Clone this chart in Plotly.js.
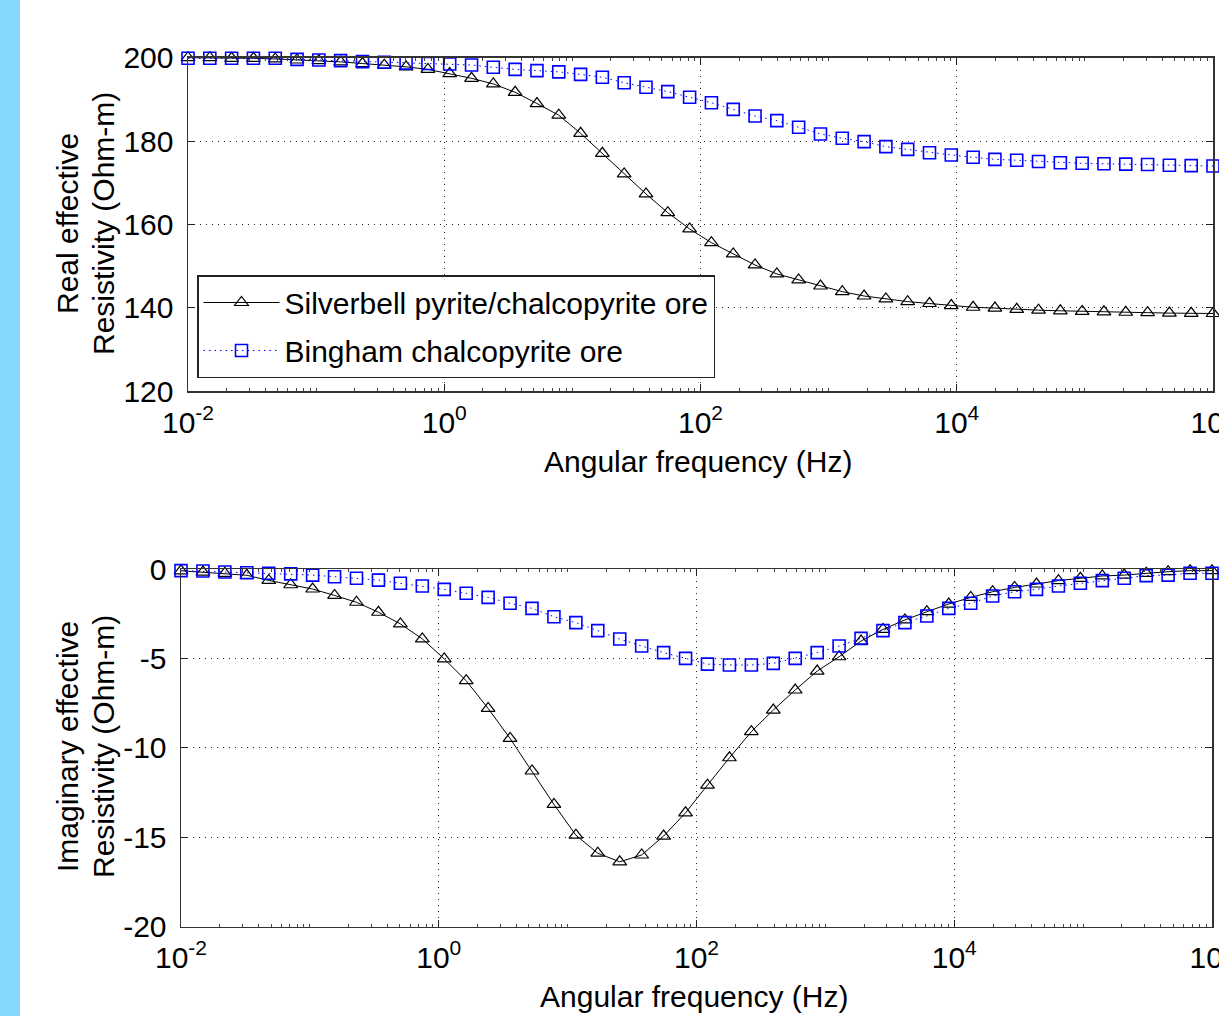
<!DOCTYPE html>
<html>
<head>
<meta charset="utf-8">
<script src="https://cdn.plot.ly/plotly-3.0.1.min.js"></script>
<style>
  html, body { margin: 0; padding: 0; }
  body { width: 1219px; height: 1016px; overflow: hidden;
         background: linear-gradient(to right, #84d8fc 0px, #84d8fc 20px, #ffffff 20px); }
  #chart { width: 1219px; height: 1016px; }
</style>
</head>
<body>
<div id="chart"></div>
<script>
// Angular frequency samples (Hz)
const omega = [0.01, 0.0148, 0.0219, 0.03241, 0.04796, 0.07098, 0.105, 0.1554, 0.23, 0.3404,
  0.5037, 0.7455, 1.103, 1.633, 2.416, 3.576, 5.292, 7.831, 11.59, 17.14,
  25.37, 37.55, 55.56, 82.23, 121.7, 180.1, 266.5, 394.4, 583.4, 863.6,
  1278, 1891, 2798, 4140, 6127, 9066, 13420, 19860, 29380, 43480,
  64350, 95220, 140900, 208500, 308700, 456700, 675900, 1000000];

// Real effective resistivity (Ohm-m)
const realSilverbell = [200, 200, 199.85, 199.85, 199.7, 199.45, 199.3, 199.0, 198.6, 198.2,
  197.8, 197.2, 196.2, 195.05, 193.7, 191.7, 189.0, 186.2, 181.85, 177.05,
  172.1, 167.3, 162.8, 158.9, 155.6, 152.9, 150.25, 148.1, 146.65, 145.2,
  143.85, 142.8, 142.1, 141.45, 141.0, 140.5, 140.1, 139.9, 139.6, 139.4,
  139.25, 139.1, 139.0, 138.9, 138.8, 138.7, 138.65, 138.6];
const realBingham = [199.85, 199.85, 199.85, 199.85, 199.85, 199.6, 199.45, 199.3, 199.05, 198.9,
  198.7, 198.6, 198.5, 198.25, 197.7, 197.2, 196.9, 196.6, 196.0, 195.3,
  194.0, 192.9, 191.85, 190.5, 189.2, 187.6, 186.0, 184.9, 183.3, 181.7,
  180.65, 179.85, 178.65, 178.0, 177.2, 176.65, 176.1, 175.6, 175.4, 175.1,
  174.8, 174.65, 174.55, 174.45, 174.35, 174.2, 174.1, 174.0];

// Imaginary effective resistivity (Ohm-m)
const imagSilverbell = [-0.1, -0.17, -0.24, -0.35, -0.64, -0.88, -1.12, -1.48, -1.86, -2.42,
  -3.07, -3.91, -5.03, -6.25, -7.8, -9.48, -11.3, -13.17, -14.89, -15.9,
  -16.38, -16.0, -14.94, -13.64, -12.09, -10.56, -9.1, -7.89, -6.77, -5.71,
  -4.91, -4.03, -3.38, -2.85, -2.39, -1.96, -1.59, -1.27, -1.03, -0.84,
  -0.65, -0.52, -0.39, -0.34, -0.24, -0.15, -0.09, -0.09];
const imagBingham = [-0.09, -0.11, -0.17, -0.21, -0.24, -0.27, -0.34, -0.43, -0.52, -0.62,
  -0.8, -0.95, -1.14, -1.36, -1.59, -1.92, -2.2, -2.67, -3.0, -3.45,
  -3.92, -4.31, -4.68, -5.0, -5.32, -5.37, -5.37, -5.28, -5.0, -4.68,
  -4.31, -3.88, -3.45, -3.0, -2.63, -2.2, -1.92, -1.51, -1.27, -1.14,
  -0.95, -0.8, -0.65, -0.52, -0.37, -0.34, -0.24, -0.24];

const seriesNames = ['Silverbell pyrite/chalcopyrite ore', 'Bingham chalcopyrite ore'];
const xTickVals = [0.01, 1, 100, 10000, 1000000];
const xTickText = ['10<sup>-2</sup>', '10<sup>0</sup>', '10<sup>2</sup>', '10<sup>4</sup>', '10<sup>6</sup>'];
const y1TickVals = [120, 140, 160, 180, 200];
const y1TickText = ['120', '140', '160', '180', '200'];
const y2TickVals = [-20, -15, -10, -5, 0];
const y2TickText = ['-20', '-15', '-10', '-5', '0'];
const xTitle = 'Angular frequency (Hz)';
const y1Title = ['Real effective', 'Resistivity (Ohm-m)'];
const y2Title = ['Imaginary effective', 'Resistivity (Ohm-m)'];

const FONT = 'Liberation Sans, Arial, Helvetica, sans-serif';
const FS = 30;
const W = 1219, H = 1016;

const blackStyle = {
  mode: 'lines+markers',
  line: { color: '#000000', width: 1 },
  marker: { symbol: 'triangle-up-open', size: 12, color: '#000000', line: { color: '#000000', width: 1.2 } },
  cliponaxis: false
};
const blueStyle = {
  mode: 'lines+markers',
  line: { color: '#0000ff', width: 1, dash: '1.5px,4px' },
  marker: { symbol: 'square-open', size: 12, color: '#0000ff', line: { color: '#0000ff', width: 1.6 } },
  cliponaxis: false
};

const traces = [
  Object.assign({ x: omega, y: realSilverbell, name: seriesNames[0], xaxis: 'x', yaxis: 'y', legendgroup: 'a' }, blackStyle),
  Object.assign({ x: omega, y: realBingham, name: seriesNames[1], xaxis: 'x', yaxis: 'y', legendgroup: 'b' }, blueStyle),
  Object.assign({ x: omega, y: imagSilverbell, name: seriesNames[0], xaxis: 'x2', yaxis: 'y2', showlegend: false }, blackStyle),
  Object.assign({ x: omega, y: imagBingham, name: seriesNames[1], xaxis: 'x2', yaxis: 'y2', showlegend: false }, blueStyle)
];

function xAxis(domain, anchor) {
  return {
    type: 'log', range: [-2, 6], domain: domain, anchor: anchor,
    tickmode: 'array', tickvals: xTickVals, ticktext: xTickText,
    ticks: 'inside', ticklen: 7, tickcolor: '#222', tickwidth: 1,
    showline: true, linecolor: '#333', linewidth: 1.5, mirror: 'ticks',
    showgrid: true, gridcolor: '#222', gridwidth: 1, griddash: '1px,5px',
    zeroline: false, ticklabeloverflow: 'allow', ticklabelstandoff: 4,
    tickfont: { family: FONT, size: FS, color: '#000' },
    minor: { ticks: 'inside', ticklen: 3, tickcolor: '#444', dtick: 'D1', showgrid: false }
  };
}
function yAxis(domain, anchor, range, vals, text) {
  return {
    range: range, domain: domain, anchor: anchor,
    tickmode: 'array', tickvals: vals, ticktext: text,
    ticks: 'inside', ticklen: 7, tickcolor: '#222', tickwidth: 1,
    showline: true, linecolor: '#333', linewidth: 1.5, mirror: 'ticks',
    showgrid: true, gridcolor: '#222', gridwidth: 1, griddash: '1px,5px',
    zeroline: false, ticklabelstandoff: 7,
    tickfont: { family: FONT, size: FS, color: '#000' }
  };
}

function ann(text, xpx, ypx, angle) {
  return {
    text: text, xref: 'paper', yref: 'paper', x: xpx / W, y: 1 - ypx / H,
    xanchor: 'center', yanchor: 'middle', showarrow: false, textangle: angle,
    font: { family: FONT, size: FS, color: '#000' }
  };
}

const layout = {
  width: W, height: H,
  margin: { l: 0, r: 0, t: 0, b: 0 },
  paper_bgcolor: 'rgba(0,0,0,0)',
  plot_bgcolor: '#ffffff',
  font: { family: FONT, color: '#000' },
  xaxis: xAxis([188 / W, 1213 / W], 'y'),
  yaxis: yAxis([1 - 391 / H, 1 - 57.7 / H], 'x', [120, 200], y1TickVals, y1TickText),
  xaxis2: xAxis([181 / W, 1212 / W], 'y2'),
  yaxis2: yAxis([1 - 926.5 / H, 1 - 569 / H], 'x2', [-20, 0], y2TickVals, y2TickText),
  showlegend: true,
  legend: {
    x: 197 / W, y: 1 - 275 / H, xanchor: 'left', yanchor: 'top',
    bgcolor: '#ffffff', bordercolor: '#222', borderwidth: 1.5,
    font: { family: FONT, size: FS, color: '#000' },
    itemwidth: 76, tracegroupgap: 6
  },
  annotations: [
    ann(xTitle, 698, 461, 0),
    ann(xTitle, 694, 996, 0),
    ann(y1Title[0], 67, 224, -90),
    ann(y1Title[1], 103, 224, -90),
    ann(y2Title[0], 67, 747, -90),
    ann(y2Title[1], 103, 747, -90)
  ]
};

Plotly.newPlot('chart', traces, layout, { displayModeBar: false, staticPlot: true });
</script>
</body>
</html>
